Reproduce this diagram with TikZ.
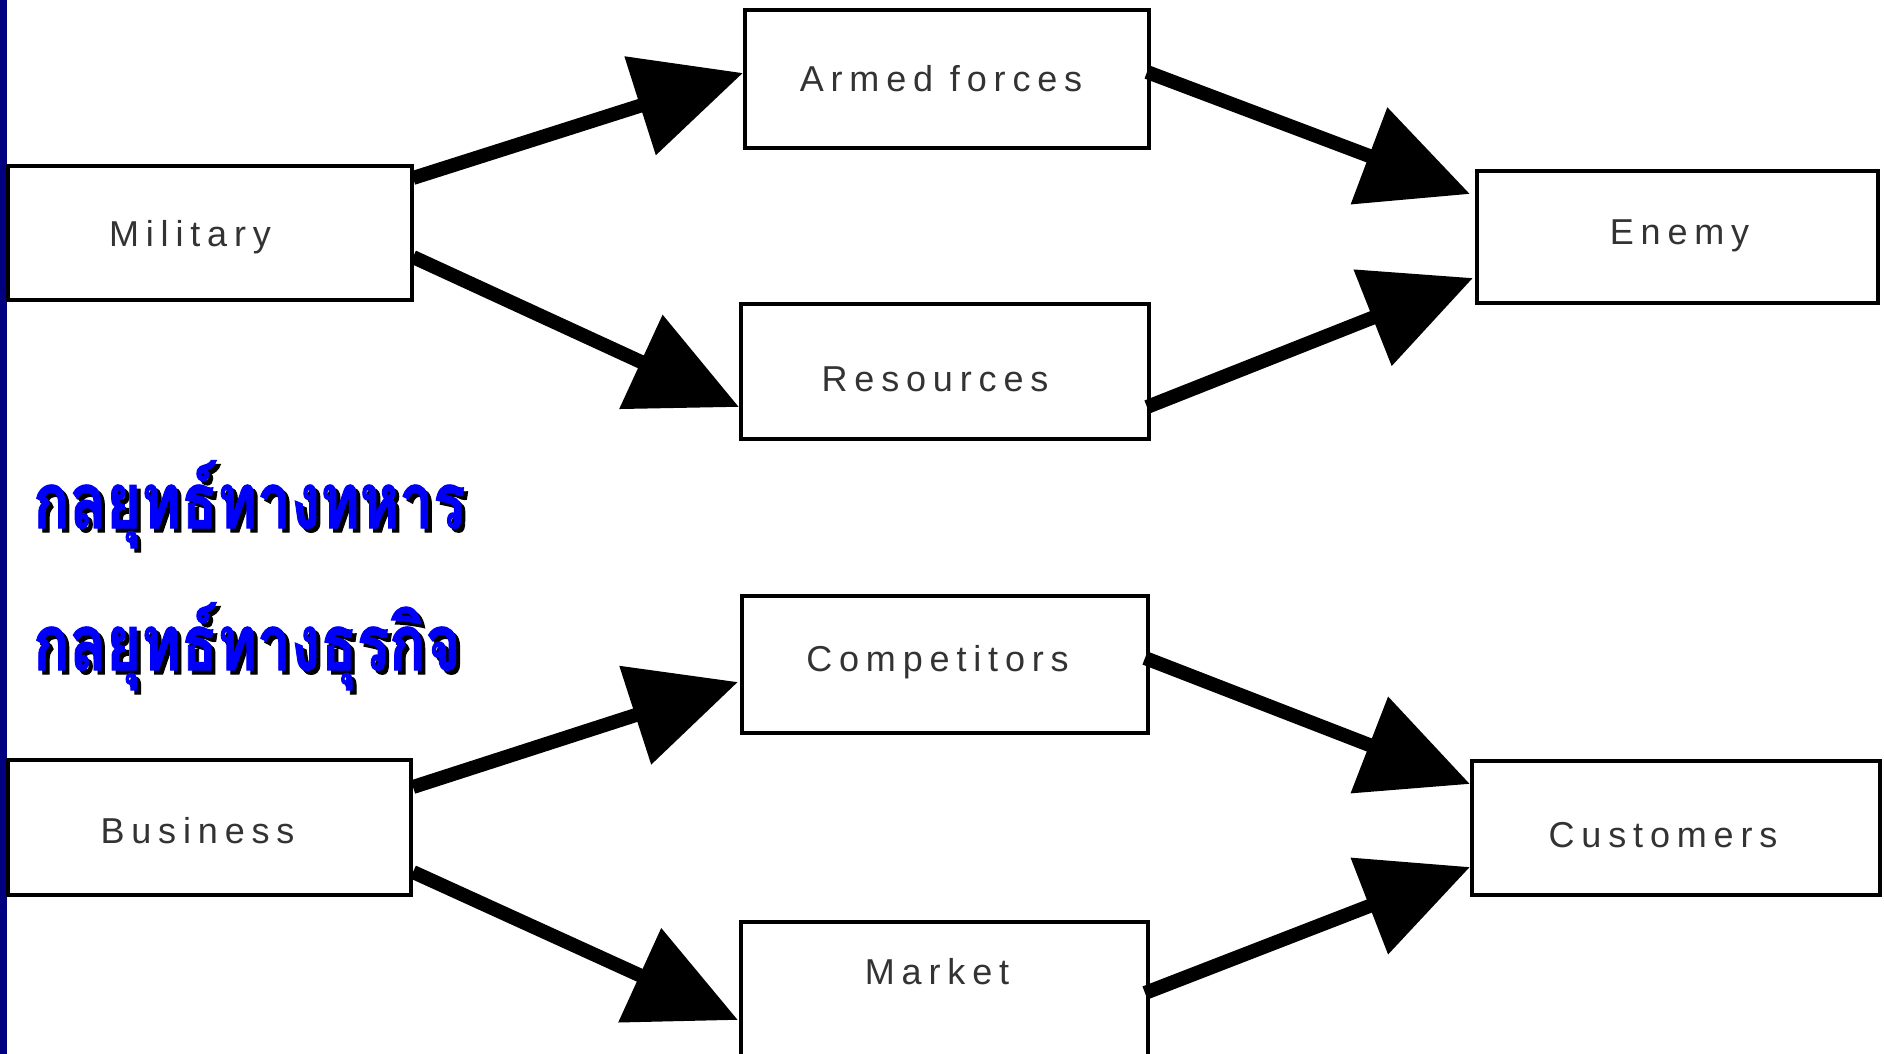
\documentclass[tikz,border=0pt]{standalone}
\usepackage{fontspec}
\usepackage{graphicx}
\usetikzlibrary{arrows.meta,calc}
\newfontfamily\lblfont[LetterSpace=19]{Liberation Sans}
\newfontfamily\thaifont[Script=Thai, BoldFeatures={FakeBold=1.5}]{Loma}
\definecolor{navybar}{RGB}{0,0,128}
\definecolor{thaiblue}{RGB}{0,0,250}
\newcommand{\thaitxt}[1]{\scalebox{0.78}[1]{\thaifont\bfseries\fontsize{77}{80}\selectfont #1}}
\newcommand{\shadowed}[1]{\rlap{\hspace{4pt}\raisebox{-4pt}{\color{black}\thaitxt{#1}}}{\color{thaiblue}\thaitxt{#1}}}
\begin{document}
\begin{tikzpicture}[x=1pt,y=-1pt,
  box/.style={draw=black, line width=3.5pt, fill=white, inner sep=0pt, outer sep=0pt, anchor=north west},
  lbl/.style={font=\lblfont\fontsize{36}{40}\selectfont, text=black!80, inner sep=0pt, text height=26pt, text depth=0pt},
  arr/.style={line width=14pt, -{Triangle[length=108pt,width=100pt]}},
  thai/.style={anchor=base west, inner sep=0pt}]
\useasboundingbox (0,0) rectangle (1884,1054);
\fill[white] (0,0) rectangle (1884,1054);
\fill[navybar] (0,0) rectangle (7,1054);

% boxes
\node[box, minimum width=404pt, minimum height=134pt, label={[lbl, xshift=-20pt]center:Military}] (mil) at (8,166) {};
\node[box, minimum width=404pt, minimum height=138pt, label={[lbl, xshift=-6pt]center:Armed forces}] (arm) at (745,10) {};
\node[box, minimum width=408pt, minimum height=135pt, label={[lbl, xshift=-10pt, yshift=-7pt]center:Resources}] (res) at (741,304) {};
\node[box, minimum width=401pt, minimum height=132pt, label={[lbl, xshift=2pt, yshift=6pt]center:Enemy}] (ene) at (1477,171) {};
\node[box, minimum width=406pt, minimum height=137pt, label={[lbl, xshift=-7.5pt, yshift=6.5pt]center:Competitors}] (com) at (742,596) {};
\node[box, minimum width=403pt, minimum height=135pt, label={[lbl, xshift=-12pt, yshift=-2.5pt]center:Business}] (bus) at (8,760) {};
\node[box, minimum width=408pt, minimum height=134pt, label={[lbl, xshift=-13pt, yshift=-6pt]center:Customers}] (cus) at (1472,761) {};
\node[box, minimum width=407pt, minimum height=140pt, label={[lbl, xshift=-7.5pt, yshift=21pt]center:Market}] (mar) at (741,922) {};

% connectors
\draw[arr] ($(mil.north east)+(1,12)$) -- ($(arm.north west)+(-2,63)$);
\draw[arr] ($(mil.north east)+(1,91)$) -- ($(res.north west)+(-2,103)$);
\draw[arr] ($(arm.north east)+(-2,62)$) -- ($(ene.north west)+(-7,23)$);
\draw[arr] ($(res.north east)+(-2,103)$) -- ($(ene.north west)+(-4,107)$);
\draw[arr] ($(bus.north east)+(2,27)$) -- ($(com.north west)+(-4,86)$);
\draw[arr] ($(bus.north east)+(2,112)$) -- ($(mar.north west)+(-3,98)$);
\draw[arr] ($(com.north east)+(-3,62)$) -- ($(cus.north west)+(-2,23)$);
\draw[arr] ($(mar.north east)+(-3,71)$) -- ($(cus.north west)+(-2,106)$);

% Thai headings
\node[thai] (t1) at (33,528) {\shadowed{กลยุทธ์ทางทหาร}};
\node[thai] (t2) at (33,670) {\shadowed{กลยุทธ์ทางธุรกิจ}};
\end{tikzpicture}
\end{document}
